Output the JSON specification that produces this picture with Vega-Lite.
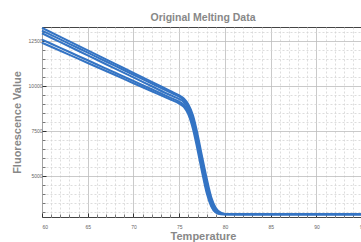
{
  "$schema": "https://vega.github.io/schema/vega-lite/v6.json",
  "autosize": "none",
  "width": 322,
  "height": 190,
  "padding": {"left": 42, "top": 27, "right": 0, "bottom": 25},
  "background": "white",
  "config": {
    "font": "Liberation Sans",
    "view": {"stroke": "#444", "strokeWidth": 1}
  },
  "title": {"text": "Original Melting Data", "fontSize": 10.5, "fontWeight": "bold", "color": "#888", "anchor": "middle", "offset": 0, "font": "Liberation Sans"},
  "data": {"values": [
    {"s":"A","t":60,"v":13200},{"s":"A","t":62,"v":12700},{"s":"A","t":64,"v":12200},{"s":"A","t":66,"v":11700},{"s":"A","t":68,"v":11200},{"s":"A","t":70,"v":10700},{"s":"A","t":72,"v":10200},{"s":"A","t":74,"v":9700},{"s":"A","t":75,"v":9450},{"s":"A","t":75.5,"v":9280},{"s":"A","t":76,"v":8950},{"s":"A","t":76.5,"v":8350},{"s":"A","t":77,"v":7300},{"s":"A","t":77.5,"v":6050},{"s":"A","t":78,"v":4850},{"s":"A","t":78.5,"v":3800},{"s":"A","t":79,"v":3200},{"s":"A","t":79.5,"v":2950},{"s":"A","t":80,"v":2870},{"s":"A","t":82,"v":2860},{"s":"A","t":85,"v":2850},{"s":"A","t":90,"v":2850},{"s":"A","t":95,"v":2850},
    {"s":"B","t":60,"v":13050},{"s":"B","t":62,"v":12560},{"s":"B","t":64,"v":12070},{"s":"B","t":66,"v":11580},{"s":"B","t":68,"v":11090},{"s":"B","t":70,"v":10600},{"s":"B","t":72,"v":10110},{"s":"B","t":74,"v":9620},{"s":"B","t":75,"v":9380},{"s":"B","t":75.5,"v":9200},{"s":"B","t":76,"v":8850},{"s":"B","t":76.5,"v":8200},{"s":"B","t":77,"v":7100},{"s":"B","t":77.5,"v":5800},{"s":"B","t":78,"v":4600},{"s":"B","t":78.5,"v":3650},{"s":"B","t":79,"v":3100},{"s":"B","t":79.5,"v":2920},{"s":"B","t":80,"v":2860},{"s":"B","t":82,"v":2855},{"s":"B","t":85,"v":2850},{"s":"B","t":90,"v":2850},{"s":"B","t":95,"v":2850},
    {"s":"C","t":60,"v":12900},{"s":"C","t":62,"v":12410},{"s":"C","t":64,"v":11920},{"s":"C","t":66,"v":11430},{"s":"C","t":68,"v":10940},{"s":"C","t":70,"v":10450},{"s":"C","t":72,"v":9960},{"s":"C","t":74,"v":9470},{"s":"C","t":75,"v":9250},{"s":"C","t":75.5,"v":9080},{"s":"C","t":76,"v":8700},{"s":"C","t":76.5,"v":8000},{"s":"C","t":77,"v":6900},{"s":"C","t":77.5,"v":5600},{"s":"C","t":78,"v":4400},{"s":"C","t":78.5,"v":3500},{"s":"C","t":79,"v":3020},{"s":"C","t":79.5,"v":2890},{"s":"C","t":80,"v":2855},{"s":"C","t":82,"v":2850},{"s":"C","t":85,"v":2850},{"s":"C","t":90,"v":2850},{"s":"C","t":95,"v":2850},
    {"s":"D","t":60,"v":12550},{"s":"D","t":62,"v":12090},{"s":"D","t":64,"v":11630},{"s":"D","t":66,"v":11170},{"s":"D","t":68,"v":10710},{"s":"D","t":70,"v":10250},{"s":"D","t":72,"v":9790},{"s":"D","t":74,"v":9330},{"s":"D","t":75,"v":9100},{"s":"D","t":75.5,"v":8930},{"s":"D","t":76,"v":8550},{"s":"D","t":76.5,"v":7800},{"s":"D","t":77,"v":6700},{"s":"D","t":77.5,"v":5400},{"s":"D","t":78,"v":4200},{"s":"D","t":78.5,"v":3380},{"s":"D","t":79,"v":2970},{"s":"D","t":79.5,"v":2870},{"s":"D","t":80,"v":2850},{"s":"D","t":82,"v":2850},{"s":"D","t":85,"v":2850},{"s":"D","t":90,"v":2850},{"s":"D","t":95,"v":2850},
    {"s":"E","t":60,"v":12380},{"s":"E","t":62,"v":11930},{"s":"E","t":64,"v":11480},{"s":"E","t":66,"v":11030},{"s":"E","t":68,"v":10580},{"s":"E","t":70,"v":10130},{"s":"E","t":72,"v":9680},{"s":"E","t":74,"v":9230},{"s":"E","t":75,"v":9000},{"s":"E","t":75.5,"v":8820},{"s":"E","t":76,"v":8400},{"s":"E","t":76.5,"v":7600},{"s":"E","t":77,"v":6450},{"s":"E","t":77.5,"v":5200},{"s":"E","t":78,"v":4050},{"s":"E","t":78.5,"v":3300},{"s":"E","t":79,"v":2950},{"s":"E","t":79.5,"v":2860},{"s":"E","t":80,"v":2850},{"s":"E","t":82,"v":2850},{"s":"E","t":85,"v":2850},{"s":"E","t":90,"v":2850},{"s":"E","t":95,"v":2850}
  ]},
  "layer": [
    {
      "mark": {"type": "line", "opacity": 0},
      "encoding": {
        "x": {"field": "t", "type": "quantitative", "scale": {"domain": [60, 95.2], "nice": false, "zero": false},
          "axis": {"orient": "bottom", "values": [61,62,63,64,66,67,68,69,71,72,73,74,76,77,78,79,81,82,83,84,86,87,88,89,91,92,93,94], "grid": true, "gridDash": [2, 2], "gridColor": "#d4d4d4", "gridWidth": 0.8, "labels": false, "ticks": true, "tickSize": -3, "tickColor": "#777", "domain": false, "title": null}},
        "y": {"field": "v", "type": "quantitative", "scale": {"domain": [2700, 13250], "nice": false, "zero": false},
          "axis": {"orient": "left", "values": [3000,3500,4000,4500,5500,6000,6500,7000,8000,8500,9000,9500,10500,11000,11500,12000,13000], "grid": true, "gridDash": [2, 2], "gridColor": "#d4d4d4", "gridWidth": 0.8, "labels": false, "ticks": true, "tickSize": -3, "tickColor": "#777", "domain": false, "title": null}},
        "detail": {"field": "s"}
      }
    },
    {
      "mark": {"type": "line", "color": "#3474c4", "strokeWidth": 2.1, "interpolate": "monotone"},
      "encoding": {
        "x": {"field": "t", "type": "quantitative",
          "axis": {"orient": "bottom", "values": [60,65,70,75,80,85,90,95], "format": "d", "grid": true, "gridColor": "#bdbdbd", "gridWidth": 0.8, "labelFontSize": 5, "labelColor": "#666", "labelPadding": 11, "ticks": true, "tickSize": -4, "tickColor": "#333", "domain": false,
            "title": "Temperature", "titleFontSize": 11, "titleFontWeight": "bold", "titleColor": "#888", "titlePadding": 1}},
        "y": {"field": "v", "type": "quantitative",
          "axis": {"orient": "left", "values": [5000, 7500, 10000, 12500], "format": "d", "grid": true, "gridColor": "#bdbdbd", "gridWidth": 0.8, "labelFontSize": 5, "labelColor": "#666", "labelPadding": 4, "ticks": true, "tickSize": -4, "tickColor": "#333", "domain": false,
            "title": "Fluorescence Value", "titleFontSize": 11, "titleFontWeight": "bold", "titleColor": "#888", "titlePadding": 6}},
        "detail": {"field": "s"}
      }
    }
  ],
  "resolve": {"axis": {"x": "independent", "y": "independent"}}
}
